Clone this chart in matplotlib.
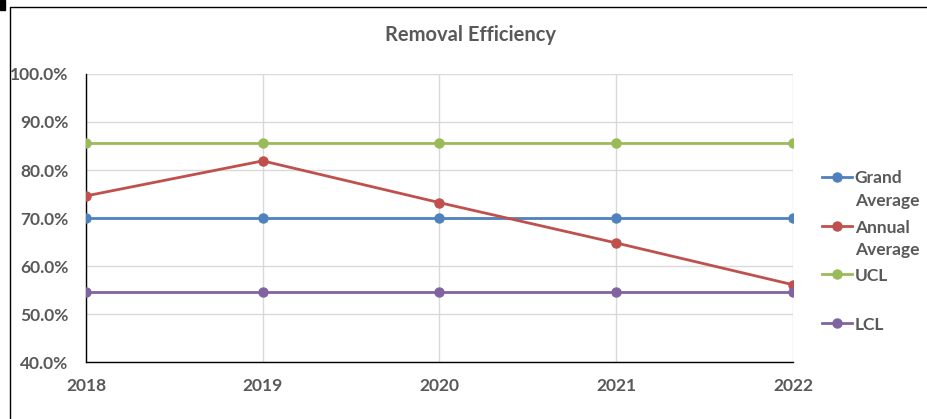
import matplotlib
matplotlib.use("Agg")
import matplotlib.pyplot as plt
from matplotlib.lines import Line2D
from matplotlib.patches import Rectangle
from matplotlib.ticker import FuncFormatter

plt.rcParams['font.family'] = ['Lato', 'DejaVu Sans']

years = [2018, 2019, 2020, 2021, 2022]
grand_average = [70.1, 70.1, 70.1, 70.1, 70.1]
annual_average = [74.6, 81.9, 73.2, 64.8, 56.1]
ucl = [85.7, 85.7, 85.7, 85.7, 85.7]
lcl = [54.5, 54.5, 54.5, 54.5, 54.5]

series = [
    ("Grand\nAverage", grand_average, "#4F81BD"),
    ("Annual\nAverage", annual_average, "#C0504D"),
    ("UCL", ucl, "#9BBB59"),
    ("LCL", lcl, "#8064A2"),
]
text_gray = "#595959"

fig = plt.figure(figsize=(9.27, 4.19), dpi=100)
ax = fig.add_axes([0.0928, 0.136, 0.7626, 0.6874])

for label, vals, col in series:
    ax.plot(years, vals, color=col, lw=2.0, marker='o', ms=6.5, zorder=3)

ax.set_xlim(2018, 2022)
ax.set_ylim(40, 100)
ax.set_xticks(years)
ax.set_yticks(range(40, 101, 10))
ax.yaxis.set_major_formatter(FuncFormatter(lambda v, p: f"{v:.1f}%"))
ax.grid(True, color="#d9d9d9", lw=1.0, zorder=0)
ax.set_axisbelow(True)
for s in ['top', 'right']:
    ax.spines[s].set_visible(False)
for s in ['left', 'bottom']:
    ax.spines[s].set_color('black')
    ax.spines[s].set_linewidth(1.0)
ax.tick_params(length=0, labelsize=12.5, colors=text_gray)
ax.tick_params(axis='y', pad=12.5)
ax.tick_params(axis='x', pad=11.5)
for lab in ax.get_xticklabels() + ax.get_yticklabels():
    lab.set_fontweight('bold')

fig.text(0.508, 0.917, "Removal Efficiency", ha='center', va='center',
         fontsize=14.5, fontweight='bold', color=text_gray)

# legend drawn by hand so multi-line labels sit like the original
leg_y = [0.5776, 0.4606, 0.346, 0.229]
line_step = 22.5 / 419
for (label, vals, col), y in zip(series, leg_y):
    fig.add_artist(Line2D([0.8867, 0.919], [y, y], color=col, lw=2.0,
                          transform=fig.transFigure))
    fig.add_artist(Line2D([0.903], [y], color=col, marker='o', ms=6.5,
                          transform=fig.transFigure))
    for i, part in enumerate(label.split('\n')):
        fig.text(0.922, y - i * line_step, part, ha='left',
                 va='center_baseline', fontsize=12.5, fontweight='bold',
                 color=text_gray)

# outer chart frame (partially cut off in the original)
fig.add_artist(Line2D([0.0108, 0.0108, 1.0], [0.0, 0.983, 0.983],
                      color='black', lw=1.0, transform=fig.transFigure))
fig.add_artist(Rectangle((0, 0.976), 0.0055, 0.024, color='black',
                         transform=fig.transFigure))

fig.savefig("out.png", dpi=100)
